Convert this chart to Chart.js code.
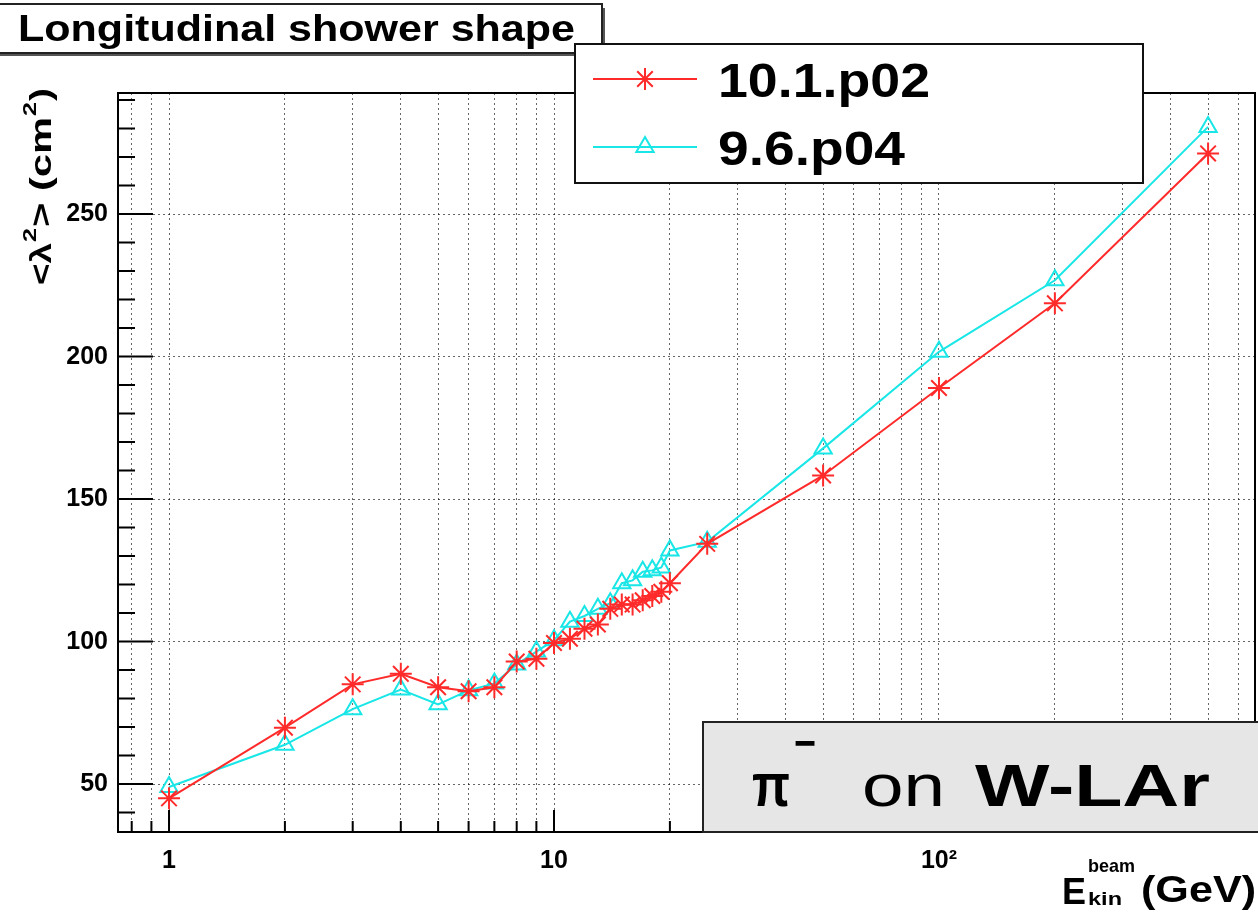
<!DOCTYPE html>
<html><head><meta charset="utf-8">
<script src="https://cdn.jsdelivr.net/npm/chart.js@4.4.1/dist/chart.umd.min.js"></script>
<style>html,body{margin:0;padding:0;background:#fff;overflow:hidden}</style>
</head><body><canvas id="c" width="1258" height="922"></canvas>
<script>
// ---- data ----
const energies = [1,2,3,4,5,6,7,8,9,10,11,12,13,14,15,16,17,18,19,20,25,50,100,200,500];
const v10_1_p02 = [45,69.8,85,88.7,84,82.6,84,93,94,99.5,101,104.5,106,111.5,113,113,114.5,116,117.5,120.5,134.3,158.3,189,218.7,271.3];
const v9_6_p04  = [49,63.8,76.3,83.2,78,82.9,85.3,92,96.5,100.5,107,109,111.5,113.5,120.5,121.5,124.5,125,126,132,135,167.8,201.7,226.8,280.6];
const seriesLabels = ['10.1.p02','9.6.p04'];
const xGridTicks = [0.8,0.9,1,2,3,4,5,6,7,8,9,10,20,30,40,50,60,70,80,90,100,200,300,400,500,600];
const xMajorTicks = [1,10,100];
const xTickLabels = {1:'1',10:'10',100:'10²'};
const yTicks = [50,100,150,200,250];
const yMinorTicks = [40,60,70,80,90,110,120,130,140,160,170,180,190,210,220,230,240,260,270,280,290];
const X_MIN = 0.737, X_MAX = 662, Y_MIN = 33.2, Y_MAX = 292.5;

const FONT = '"Liberation Sans", Arial, Helvetica, sans-serif';
const RED = '#ff2a2a', CYAN = '#19e6e6';

function pts(vals){ return energies.map((e,i)=>({x:e,y:vals[i]})); }

function fitText(ctx, txt, x, y, font, targetW){
  ctx.font = font;
  const w = ctx.measureText(txt).width;
  const sx = targetW ? targetW / w : 1;
  ctx.save(); ctx.translate(x, y); ctx.scale(sx, 1);
  ctx.textAlign = 'left'; ctx.textBaseline = 'alphabetic';
  ctx.fillText(txt, 0, 0); ctx.restore();
  return w * sx;
}

const decor = {
  id: 'decor',
  afterDraw(chart){
    const ctx = chart.ctx, a = chart.chartArea, xs = chart.scales.x, ys = chart.scales.y;
    ctx.save();
    // inner ticks (ROOT style)
    ctx.strokeStyle = '#000'; ctx.lineWidth = 2;
    ctx.beginPath();
    yTicks.forEach(v=>{ const p = ys.getPixelForValue(v); ctx.moveTo(a.left, p); ctx.lineTo(a.left+35, p); });
    yMinorTicks.forEach(v=>{ const p = ys.getPixelForValue(v); ctx.moveTo(a.left, p); ctx.lineTo(a.left+17, p); });
    xGridTicks.forEach(v=>{ const p = xs.getPixelForValue(v); const L = xMajorTicks.includes(v)?22:11; ctx.moveTo(p, a.bottom); ctx.lineTo(p, a.bottom-L); });
    ctx.stroke();
    // frame
    ctx.lineWidth = 2; ctx.strokeRect(a.left, a.top, a.right-a.left, a.bottom-a.top);

    // title box
    ctx.fillStyle = '#555'; ctx.fillRect(-2, 8, 607, 48);
    ctx.fillStyle = '#fff'; ctx.fillRect(-2, 4, 604, 49);
    ctx.strokeStyle = '#222'; ctx.lineWidth = 2; ctx.strokeRect(-2, 4, 604, 49);
    ctx.fillStyle = '#000';
    fitText(ctx, 'Longitudinal shower shape', 18, 41, 'bold 37px '+FONT, 557);

    // legend
    ctx.fillStyle = '#fff'; ctx.fillRect(575, 44, 568, 139);
    ctx.strokeStyle = '#111'; ctx.lineWidth = 2; ctx.strokeRect(575, 44, 568, 139);
    const rows = [79, 147];
    chart.data.datasets.forEach((ds, i)=>{
      const yy = rows[i];
      ctx.strokeStyle = ds.borderColor; ctx.lineWidth = 2;
      ctx.beginPath(); ctx.moveTo(593, yy); ctx.lineTo(697, yy); ctx.stroke();
      ctx.fillStyle = 'rgba(0,0,0,0)';
      ctx.strokeStyle = ds.pointBorderColor; ctx.lineWidth = ds.pointBorderWidth;
      Chart.helpers.drawPoint(ctx, {pointStyle: ds.pointStyle, radius: ds.pointRadius, rotation: 0, borderWidth: ds.pointBorderWidth}, 645, yy);
      ctx.fillStyle = '#000';
      fitText(ctx, ds.label, 718, yy+18, 'bold 49px '+FONT, i===0?212:187);
    });

    // pi box
    ctx.fillStyle = '#e6e6e6'; ctx.fillRect(703, 722, 560, 110);
    ctx.strokeStyle = '#222'; ctx.lineWidth = 2; ctx.strokeRect(703, 722, 560, 110);
    ctx.fillStyle = '#000';
    fitText(ctx, 'π', 752, 806, 'bold 62px '+FONT, 38);
    fitText(ctx, '−', 794, 758, 'bold 44px '+FONT, 22);
    fitText(ctx, 'on', 862, 806, '60px '+FONT, 83);
    fitText(ctx, 'W-LAr', 975, 806, 'bold 60px '+FONT, 235);

    // y title (rotated)
    ctx.save(); ctx.translate(51, 285); ctx.rotate(-Math.PI/2);
    let x = 0;
    x += fitText(ctx, '<λ', x, 0, 'bold 30px '+FONT, 42);
    x += fitText(ctx, '2', x+1, -15, 'bold 19px '+FONT, 14) + 2;
    x += fitText(ctx, '> (cm', x, 0, 'bold 30px '+FONT, 110);
    x += fitText(ctx, '2', x+1, -15, 'bold 19px '+FONT, 14) + 2;
    fitText(ctx, ')', x, 0, 'bold 30px '+FONT, 13);
    ctx.restore();

    // x title
    fitText(ctx, 'E', 1062, 904, 'bold 36px '+FONT, 24);
    fitText(ctx, 'beam', 1088, 872, 'bold 19px '+FONT, 47);
    fitText(ctx, 'kin', 1088, 905, 'bold 19px '+FONT, 34);
    fitText(ctx, '(GeV)', 1141, 902, 'bold 36px '+FONT, 115);
    ctx.restore();
  }
};

const gridOpts = {color:'rgba(0,0,0,0.6)', lineWidth:1, drawTicks:false};
const borderOpts = {display:false, dash:[2,3]};

new Chart(document.getElementById('c'), {
  type: 'line',
  data: { datasets: [
    {label: seriesLabels[0], data: pts(v10_1_p02), borderColor: RED, borderWidth: 2,
     pointStyle: 'star', pointRadius: 11, pointBorderWidth: 2, pointBorderColor: RED, pointBackgroundColor: RED, tension: 0},
    {label: seriesLabels[1], data: pts(v9_6_p04), borderColor: CYAN, borderWidth: 2,
     pointStyle: 'triangle', pointRadius: 10, pointBorderWidth: 2, pointBorderColor: CYAN, pointBackgroundColor: 'rgba(0,0,0,0)', tension: 0}
  ]},
  options: {
    responsive: false, animation: false, devicePixelRatio: 1,
    layout: {autoPadding: false, padding: {top: 93, right: 3, left: 0, bottom: 0}},
    plugins: {legend: {display: false}, tooltip: {enabled: false}},
    scales: {
      x: {type: 'logarithmic', min: X_MIN, max: X_MAX, bounds: 'data',
        afterBuildTicks: s => { s.ticks = xGridTicks.map(v => ({value: v})); s.min = X_MIN; s.max = X_MAX; },
        afterFit: s => { s.height = 90; },
        grid: gridOpts, border: borderOpts,
        ticks: {autoSkip: false, maxRotation: 0, padding: 14, color: '#000',
          font: {family: FONT, weight: 'bold', size: 25},
          callback: v => xTickLabels[v] || ''}},
      y: {min: Y_MIN, max: Y_MAX,
        afterBuildTicks: s => { s.ticks = yTicks.map(v => ({value: v})); s.min = Y_MIN; s.max = Y_MAX; },
        afterFit: s => { s.width = 118; },
        grid: gridOpts, border: borderOpts,
        ticks: {padding: 10, color: '#000', font: {family: FONT, weight: 'bold', size: 25}}}
    }
  },
  plugins: [decor]
});
</script></body></html>
